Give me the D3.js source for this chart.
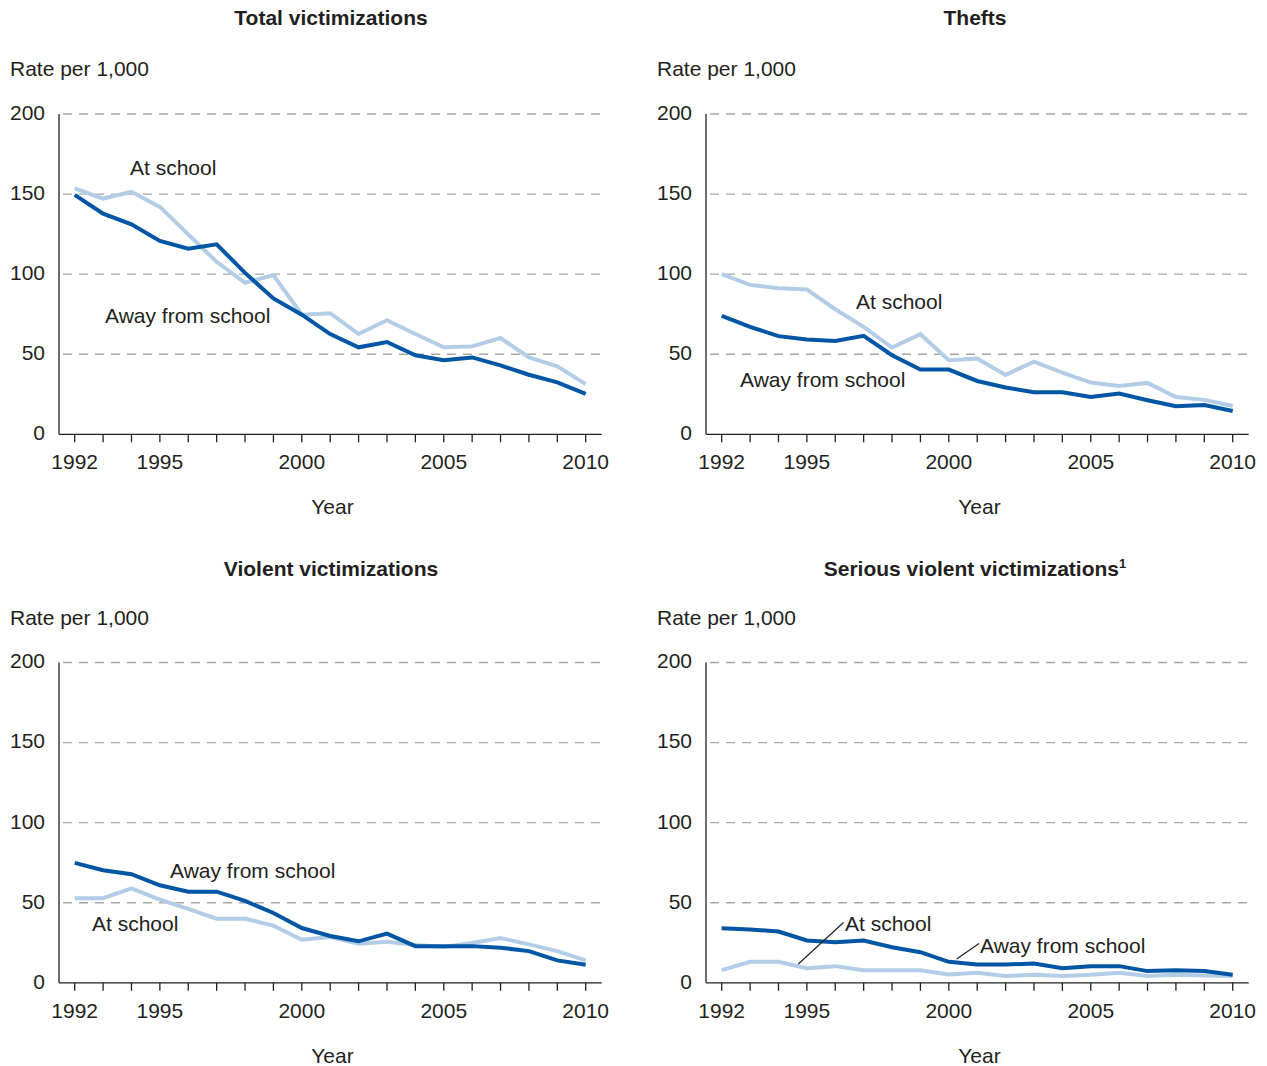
<!DOCTYPE html>
<html>
<head>
<meta charset="utf-8">
<script src="https://cdn.jsdelivr.net/npm/d3@7"></script>
<style>
  html, body { margin: 0; padding: 0; background: #fff; }
  svg { display: block; }
  text { font-family: "Liberation Sans", Arial, Helvetica, sans-serif; fill: #231f20; }
</style>
</head>
<body>
<svg id="chart" width="1267" height="1066"></svg>
<script>
// ---- Data ----
const years = [1992,1993,1994,1995,1996,1997,1998,1999,2000,2001,2002,2003,2004,2005,2006,2007,2008,2009,2010];
const yTicks = [0, 50, 100, 150, 200];
const xTickLabels = [1992, 1995, 2000, 2005, 2010];

const totalAtSchool   = [153.6,147.2,151.4,142,124.8,107.7,94.6,99.4,74.7,75.6,62.6,71.2,62.6,54.3,54.9,60.1,48,42.4,31.3];
const totalAway       = [149.5,137.8,131.1,120.7,115.9,118.6,100.8,84.8,74.7,62.6,54.3,57.6,49.3,46.3,48,43,37.2,32.4,25.3];

const theftAtSchool   = [100,93.3,91.2,90.4,78.1,67.1,54.2,62.5,46.3,47.3,37.1,45.4,38.5,32.3,30.2,32.1,23.3,21.5,17.7];
const theftAway       = [74,67.1,61.3,59.2,58.3,61.5,49.4,40.4,40.4,33.3,29.2,26.3,26.3,23.3,25.4,21.3,17.5,18.3,14.6];

const violentAtSchool = [52.8,52.8,59,51.9,46.1,40,40,35.7,26.9,28.6,24.4,25.7,23.6,22.3,24.8,27.9,24,19.8,14];
const violentAway     = [74.9,70.3,67.8,60.9,56.9,56.9,51.1,43.6,34.2,29.2,25.9,30.7,22.9,22.9,22.9,21.9,19.8,14,11.3];

const seriousAtSchool = [7.9,13.1,13.1,9.1,10.4,7.9,7.9,7.9,5.2,6.2,4.2,5,4.2,5,6.2,4.2,5,4.6,4.2];
const seriousAway     = [34.1,33.3,32,26.4,25.4,26.4,22.2,19.1,13.1,11.4,11.4,12.1,9.1,10.4,10.4,7.3,7.9,7.3,5];

const panelTitles = ["Total victimizations", "Thefts", "Violent victimizations", "Serious violent victimizations"];
const seriesNames = ["At school", "Away from school"];

// ---- Styles / layout ----
const COLOR_AT = "#b3cde7";
const COLOR_AWAY = "#0056a4";
const AXIS = "#231f20";
const GRID = "#a7a7a7";
const FS = 21;

const svg = d3.select("#chart");

const panels = [
  { title: panelTitles[0], dx: 0,   dy: 0,     tx: 331, ty: 25.3,  at: totalAtSchool,   away: totalAway,
    labels: [{t: seriesNames[0], x: 130, y: 175}, {t: seriesNames[1], x: 105, y: 323}] },
  { title: panelTitles[1], dx: 647, dy: 0,     tx: 975, ty: 25.3,  at: theftAtSchool,   away: theftAway,
    labels: [{t: seriesNames[0], x: 856, y: 309}, {t: seriesNames[1], x: 740, y: 387}] },
  { title: panelTitles[2], dx: 0,   dy: 548.5, tx: 331, ty: 576,   at: violentAtSchool, away: violentAway,
    labels: [{t: seriesNames[1], x: 170, y: 878}, {t: seriesNames[0], x: 92, y: 931}] },
  { title: panelTitles[3], dx: 647, dy: 548.5, tx: 975, ty: 576,   at: seriousAtSchool, away: seriousAway, sup: "1",
    labels: [{t: seriesNames[0], x: 845, y: 931, lead: [798.3, 964, 843.5, 922.5]},
             {t: seriesNames[1], x: 980, y: 953, lead: [956.7, 959, 979, 943.5]}] }
];

panels.forEach(p => {
  const g = svg.append("g");
  const axisX = 59 + p.dx;
  const x = d3.scaleLinear().domain([1992, 2010]).range([74.7 + p.dx, 585.7 + p.dx]);
  const y = d3.scaleLinear().domain([0, 200]).range([434.3 + p.dy, 114 + p.dy]);
  const xEnd = 601.7 + p.dx;

  // title
  const title = g.append("text")
    .attr("x", p.tx).attr("y", p.ty)
    .attr("text-anchor", "middle")
    .attr("font-size", FS).attr("font-weight", "bold")
    .text(p.title);
  if (p.sup) {
    title.append("tspan").attr("font-size", 13).attr("dy", -8).text(p.sup);
  }

  // y label
  g.append("text").attr("x", 10 + p.dx).attr("y", 76 + p.dy)
    .attr("font-size", FS).text("Rate per 1,000");

  // gridlines
  g.selectAll(".grid").data(yTicks.filter(d => d > 0)).enter().append("line")
    .attr("x1", axisX + 4).attr("x2", xEnd)
    .attr("y1", d => y(d)).attr("y2", d => y(d))
    .attr("stroke", GRID).attr("stroke-width", 1.4)
    .attr("stroke-dasharray", "9,7");

  // y tick labels
  g.selectAll(".ytl").data(yTicks).enter().append("text")
    .attr("x", 45 + p.dx).attr("y", d => y(d) - 1.5).attr("dy", "0.35em")
    .attr("text-anchor", "end").attr("font-size", FS)
    .text(d => d);

  // y axis line
  g.append("line").attr("x1", axisX).attr("x2", axisX)
    .attr("y1", y(200)).attr("y2", y(0))
    .attr("stroke", AXIS).attr("stroke-width", 1.3);

  // x axis line
  g.append("line").attr("x1", axisX).attr("x2", xEnd)
    .attr("y1", y(0)).attr("y2", y(0))
    .attr("stroke", AXIS).attr("stroke-width", 1.3);

  // x ticks
  g.selectAll(".xt").data(years).enter().append("line")
    .attr("x1", d => x(d)).attr("x2", d => x(d))
    .attr("y1", y(0)).attr("y2", y(0) + 8)
    .attr("stroke", AXIS).attr("stroke-width", 1.3);

  // x tick labels
  g.selectAll(".xtl").data(xTickLabels).enter().append("text")
    .attr("x", d => x(d)).attr("y", 469.3 + p.dy)
    .attr("text-anchor", "middle").attr("font-size", FS)
    .text(d => d);

  // x label
  g.append("text").attr("x", 332.5 + p.dx).attr("y", 514 + p.dy)
    .attr("text-anchor", "middle").attr("font-size", FS).text("Year");

  // lines
  const line = d3.line().x((d, i) => x(years[i])).y(d => y(d));
  g.append("path").datum(p.at).attr("d", line)
    .attr("fill", "none").attr("stroke", COLOR_AT).attr("stroke-width", 4);
  g.append("path").datum(p.away).attr("d", line)
    .attr("fill", "none").attr("stroke", COLOR_AWAY).attr("stroke-width", 4);

  // annotations
  p.labels.forEach(l => {
    g.append("text").attr("x", l.x).attr("y", l.y)
      .attr("font-size", FS).text(l.t);
    if (l.lead) {
      g.append("line").attr("x1", l.lead[0]).attr("y1", l.lead[1])
        .attr("x2", l.lead[2]).attr("y2", l.lead[3])
        .attr("stroke", AXIS).attr("stroke-width", 1.2);
    }
  });
});
</script>
</body>
</html>
